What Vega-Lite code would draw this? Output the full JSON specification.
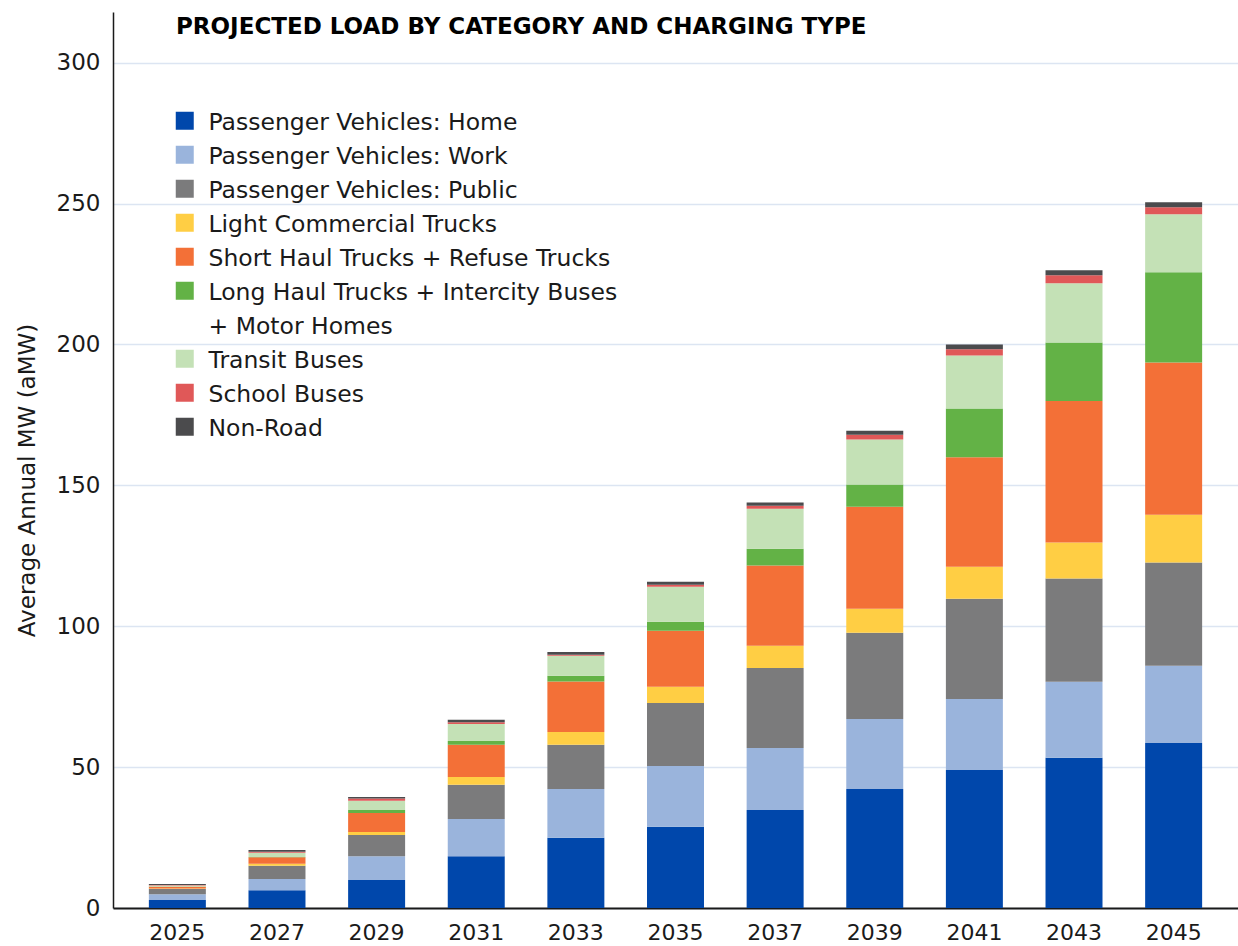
{
  "$schema": "https://vega.github.io/schema/vega-lite/v6.json",
  "autosize": {"type": "none"},
  "padding": {"left": 113, "top": 12, "right": 0, "bottom": 38},
  "width": 1125,
  "height": 896,
  "background": "white",
  "title": {
    "text": "PROJECTED LOAD BY CATEGORY AND CHARGING TYPE",
    "anchor": "start",
    "frame": "group",
    "font": "DejaVu Sans",
    "fontSize": 23,
    "fontWeight": "bold",
    "color": "#000000",
    "baseline": "alphabetic",
    "offset": 0,
    "dx": 63,
    "dy": 45
  },
  "config": {
    "view": {"stroke": null},
    "font": "DejaVu Sans"
  },
  "data": {
    "values": [
      {"year": "2025", "category": "Passenger Vehicles: Home", "aMW": 2.8},
      {"year": "2025", "category": "Passenger Vehicles: Work", "aMW": 2.1},
      {"year": "2025", "category": "Passenger Vehicles: Public", "aMW": 1.8},
      {"year": "2025", "category": "Light Commercial Trucks", "aMW": 0.2},
      {"year": "2025", "category": "Short Haul Trucks + Refuse Trucks", "aMW": 0.6},
      {"year": "2025", "category": "Long Haul Trucks + Intercity Buses + Motor Homes", "aMW": 0.1},
      {"year": "2025", "category": "Transit Buses", "aMW": 0.4},
      {"year": "2025", "category": "School Buses", "aMW": 0.2},
      {"year": "2025", "category": "Non-Road", "aMW": 0.3},

      {"year": "2027", "category": "Passenger Vehicles: Home", "aMW": 6.3},
      {"year": "2027", "category": "Passenger Vehicles: Work", "aMW": 4.0},
      {"year": "2027", "category": "Passenger Vehicles: Public", "aMW": 4.7},
      {"year": "2027", "category": "Light Commercial Trucks", "aMW": 0.7},
      {"year": "2027", "category": "Short Haul Trucks + Refuse Trucks", "aMW": 2.3},
      {"year": "2027", "category": "Long Haul Trucks + Intercity Buses + Motor Homes", "aMW": 0.1},
      {"year": "2027", "category": "Transit Buses", "aMW": 1.5},
      {"year": "2027", "category": "School Buses", "aMW": 0.4},
      {"year": "2027", "category": "Non-Road", "aMW": 0.6},

      {"year": "2029", "category": "Passenger Vehicles: Home", "aMW": 9.9},
      {"year": "2029", "category": "Passenger Vehicles: Work", "aMW": 8.5},
      {"year": "2029", "category": "Passenger Vehicles: Public", "aMW": 7.5},
      {"year": "2029", "category": "Light Commercial Trucks", "aMW": 1.1},
      {"year": "2029", "category": "Short Haul Trucks + Refuse Trucks", "aMW": 6.7},
      {"year": "2029", "category": "Long Haul Trucks + Intercity Buses + Motor Homes", "aMW": 1.1},
      {"year": "2029", "category": "Transit Buses", "aMW": 3.3},
      {"year": "2029", "category": "School Buses", "aMW": 0.8},
      {"year": "2029", "category": "Non-Road", "aMW": 0.5},

      {"year": "2031", "category": "Passenger Vehicles: Home", "aMW": 18.4},
      {"year": "2031", "category": "Passenger Vehicles: Work", "aMW": 13.2},
      {"year": "2031", "category": "Passenger Vehicles: Public", "aMW": 12.1},
      {"year": "2031", "category": "Light Commercial Trucks", "aMW": 2.8},
      {"year": "2031", "category": "Short Haul Trucks + Refuse Trucks", "aMW": 11.4},
      {"year": "2031", "category": "Long Haul Trucks + Intercity Buses + Motor Homes", "aMW": 1.4},
      {"year": "2031", "category": "Transit Buses", "aMW": 6.0},
      {"year": "2031", "category": "School Buses", "aMW": 0.6},
      {"year": "2031", "category": "Non-Road", "aMW": 0.9},

      {"year": "2033", "category": "Passenger Vehicles: Home", "aMW": 24.9},
      {"year": "2033", "category": "Passenger Vehicles: Work", "aMW": 17.3},
      {"year": "2033", "category": "Passenger Vehicles: Public", "aMW": 15.7},
      {"year": "2033", "category": "Light Commercial Trucks", "aMW": 4.6},
      {"year": "2033", "category": "Short Haul Trucks + Refuse Trucks", "aMW": 17.9},
      {"year": "2033", "category": "Long Haul Trucks + Intercity Buses + Motor Homes", "aMW": 2.0},
      {"year": "2033", "category": "Transit Buses", "aMW": 7.1},
      {"year": "2033", "category": "School Buses", "aMW": 0.4},
      {"year": "2033", "category": "Non-Road", "aMW": 1.0},

      {"year": "2035", "category": "Passenger Vehicles: Home", "aMW": 28.8},
      {"year": "2035", "category": "Passenger Vehicles: Work", "aMW": 21.6},
      {"year": "2035", "category": "Passenger Vehicles: Public", "aMW": 22.4},
      {"year": "2035", "category": "Light Commercial Trucks", "aMW": 5.7},
      {"year": "2035", "category": "Short Haul Trucks + Refuse Trucks", "aMW": 19.9},
      {"year": "2035", "category": "Long Haul Trucks + Intercity Buses + Motor Homes", "aMW": 3.2},
      {"year": "2035", "category": "Transit Buses", "aMW": 12.4},
      {"year": "2035", "category": "School Buses", "aMW": 0.7},
      {"year": "2035", "category": "Non-Road", "aMW": 1.1},

      {"year": "2037", "category": "Passenger Vehicles: Home", "aMW": 34.8},
      {"year": "2037", "category": "Passenger Vehicles: Work", "aMW": 22.0},
      {"year": "2037", "category": "Passenger Vehicles: Public", "aMW": 28.4},
      {"year": "2037", "category": "Light Commercial Trucks", "aMW": 7.9},
      {"year": "2037", "category": "Short Haul Trucks + Refuse Trucks", "aMW": 28.5},
      {"year": "2037", "category": "Long Haul Trucks + Intercity Buses + Motor Homes", "aMW": 5.9},
      {"year": "2037", "category": "Transit Buses", "aMW": 14.2},
      {"year": "2037", "category": "School Buses", "aMW": 1.1},
      {"year": "2037", "category": "Non-Road", "aMW": 1.1},

      {"year": "2039", "category": "Passenger Vehicles: Home", "aMW": 42.2},
      {"year": "2039", "category": "Passenger Vehicles: Work", "aMW": 24.9},
      {"year": "2039", "category": "Passenger Vehicles: Public", "aMW": 30.6},
      {"year": "2039", "category": "Light Commercial Trucks", "aMW": 8.5},
      {"year": "2039", "category": "Short Haul Trucks + Refuse Trucks", "aMW": 36.2},
      {"year": "2039", "category": "Long Haul Trucks + Intercity Buses + Motor Homes", "aMW": 7.9},
      {"year": "2039", "category": "Transit Buses", "aMW": 16.0},
      {"year": "2039", "category": "School Buses", "aMW": 1.7},
      {"year": "2039", "category": "Non-Road", "aMW": 1.4},

      {"year": "2041", "category": "Passenger Vehicles: Home", "aMW": 49.0},
      {"year": "2041", "category": "Passenger Vehicles: Work", "aMW": 25.2},
      {"year": "2041", "category": "Passenger Vehicles: Public", "aMW": 35.6},
      {"year": "2041", "category": "Light Commercial Trucks", "aMW": 11.3},
      {"year": "2041", "category": "Short Haul Trucks + Refuse Trucks", "aMW": 38.9},
      {"year": "2041", "category": "Long Haul Trucks + Intercity Buses + Motor Homes", "aMW": 17.3},
      {"year": "2041", "category": "Transit Buses", "aMW": 18.8},
      {"year": "2041", "category": "School Buses", "aMW": 2.2},
      {"year": "2041", "category": "Non-Road", "aMW": 1.7},

      {"year": "2043", "category": "Passenger Vehicles: Home", "aMW": 53.3},
      {"year": "2043", "category": "Passenger Vehicles: Work", "aMW": 27.0},
      {"year": "2043", "category": "Passenger Vehicles: Public", "aMW": 36.6},
      {"year": "2043", "category": "Light Commercial Trucks", "aMW": 12.8},
      {"year": "2043", "category": "Short Haul Trucks + Refuse Trucks", "aMW": 50.2},
      {"year": "2043", "category": "Long Haul Trucks + Intercity Buses + Motor Homes", "aMW": 20.8},
      {"year": "2043", "category": "Transit Buses", "aMW": 21.0},
      {"year": "2043", "category": "School Buses", "aMW": 2.9},
      {"year": "2043", "category": "Non-Road", "aMW": 1.7},

      {"year": "2045", "category": "Passenger Vehicles: Home", "aMW": 58.6},
      {"year": "2045", "category": "Passenger Vehicles: Work", "aMW": 27.4},
      {"year": "2045", "category": "Passenger Vehicles: Public", "aMW": 36.6},
      {"year": "2045", "category": "Light Commercial Trucks", "aMW": 17.0},
      {"year": "2045", "category": "Short Haul Trucks + Refuse Trucks", "aMW": 54.0},
      {"year": "2045", "category": "Long Haul Trucks + Intercity Buses + Motor Homes", "aMW": 32.0},
      {"year": "2045", "category": "Transit Buses", "aMW": 20.6},
      {"year": "2045", "category": "School Buses", "aMW": 2.5},
      {"year": "2045", "category": "Non-Road", "aMW": 1.8}
    ]
  },
  "transform": [
    {
      "calculate": "indexof(['Passenger Vehicles: Home', 'Passenger Vehicles: Work', 'Passenger Vehicles: Public', 'Light Commercial Trucks', 'Short Haul Trucks + Refuse Trucks', 'Long Haul Trucks + Intercity Buses + Motor Homes', 'Transit Buses', 'School Buses', 'Non-Road'], datum.category)",
      "as": "stackOrder"
    }
  ],
  "mark": {"type": "bar"},
  "encoding": {
    "x": {
      "field": "year",
      "type": "ordinal",
      "scale": {"paddingInner": 0.428, "paddingOuter": 0.36},
      "axis": {
        "title": null,
        "labelAngle": 0,
        "labelFont": "DejaVu Sans",
        "labelFontSize": 22,
        "labelColor": "#1a1a1a",
        "labelPadding": 14,
        "ticks": false,
        "domainColor": "#1a1a1a",
        "domainWidth": 2,
        "grid": false
      }
    },
    "y": {
      "field": "aMW",
      "type": "quantitative",
      "stack": "zero",
      "scale": {"domain": [0, 318], "nice": false},
      "axis": {
        "title": "Average Annual MW (aMW)",
        "titleFont": "DejaVu Sans",
        "titleFontSize": 23,
        "titleFontWeight": "normal",
        "titleColor": "#1a1a1a",
        "titlePadding": 17,
        "titleY": 468,
        "values": [0, 50, 100, 150, 200, 250, 300],
        "labelFont": "DejaVu Sans",
        "labelFontSize": 23,
        "labelColor": "#1a1a1a",
        "labelPadding": 13,
        "ticks": false,
        "domainColor": "#1a1a1a",
        "domainWidth": 1.5,
        "grid": true,
        "gridColor": "#DCE5F2",
        "gridWidth": 1.5
      }
    },
    "color": {
      "field": "category",
      "type": "nominal",
      "sort": [
        "Passenger Vehicles: Home",
        "Passenger Vehicles: Work",
        "Passenger Vehicles: Public",
        "Light Commercial Trucks",
        "Short Haul Trucks + Refuse Trucks",
        "Long Haul Trucks + Intercity Buses + Motor Homes",
        "Transit Buses",
        "School Buses",
        "Non-Road"
      ],
      "scale": {
        "domain": [
          "Passenger Vehicles: Home",
          "Passenger Vehicles: Work",
          "Passenger Vehicles: Public",
          "Light Commercial Trucks",
          "Short Haul Trucks + Refuse Trucks",
          "Long Haul Trucks + Intercity Buses + Motor Homes",
          "Transit Buses",
          "School Buses",
          "Non-Road"
        ],
        "range": ["#0047AB", "#9AB4DC", "#7B7B7C", "#FFCE44", "#F37037", "#63B246", "#C4E1B6", "#E05858", "#4B4B4D"]
      },
      "legend": {
        "title": null,
        "orient": "none",
        "legendX": 60,
        "legendY": 97,
        "padding": 0,
        "symbolType": "square",
        "symbolSize": 324,
        "symbolStrokeWidth": 0,
        "symbolOpacity": 1,
        "labelFont": "DejaVu Sans",
        "labelFontSize": 23.5,
        "labelColor": "#1a1a1a",
        "labelOffset": 12,
        "labelLimit": 600,
        "labelBaseline": "alphabetic",
        "rowPadding": 8,
        "labelExpr": "datum.label == 'Long Haul Trucks + Intercity Buses + Motor Homes' ? ['Long Haul Trucks + Intercity Buses', '+ Motor Homes'] : datum.label",
        "encode": {"labels": {"update": {"dy": {"value": 9}, "lineHeight": {"value": 34}}}}
      }
    },
    "order": {"field": "stackOrder", "type": "quantitative", "sort": "ascending"}
  }
}
